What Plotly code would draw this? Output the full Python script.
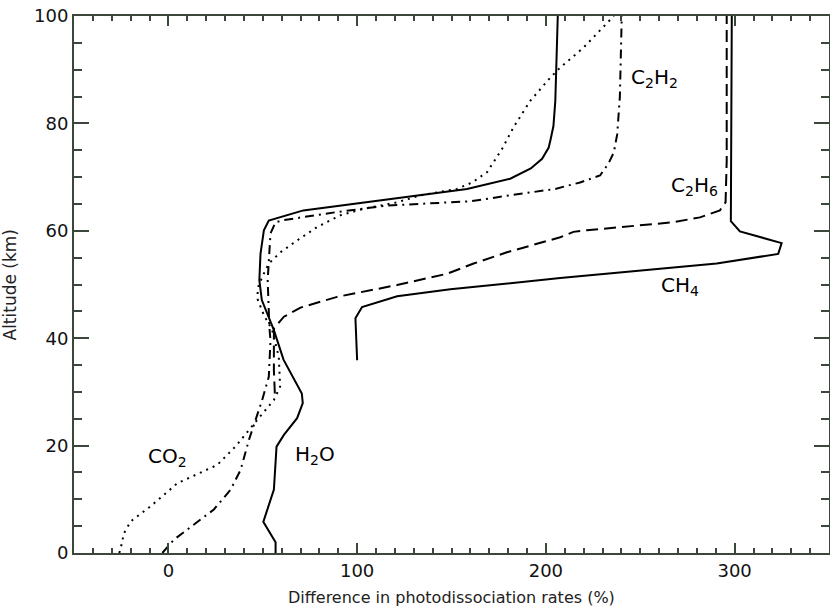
import plotly.graph_objects as go

# ---- data ----
h2o_alt = [0, 2, 5.8, 11.8, 19.8, 22, 25.1, 27.9, 29.7, 33, 36, 41.5, 47.1, 50.8, 55.7, 60.1, 61.9, 63.8,
           67.8, 69.7, 71.6, 73.4, 75.5, 77, 79.5, 84.2, 90.4, 100]
h2o_val = [56.8, 56.8, 50.3, 55.9, 57.3, 61.2, 68.2, 71.2, 70.7, 65.5, 61, 55.9, 49.5, 48.2, 48.8, 50.6, 53.2, 71.5,
           158.2, 181.1, 192, 198, 201.5, 202.5, 204, 205, 205.5, 206.3]

co2_alt = [0, 1.0, 3.7, 5.9, 8.7, 13, 16.4, 20, 24.2, 28.5, 31, 33.5, 36.5, 39, 41.5, 44.3, 47.4, 49.5, 51.4,
           53.9, 56, 58.2, 60.7, 62.9, 64.1, 65.3, 66.6, 67.8, 69, 70.9, 73, 75.2, 79.3, 84.2, 88.5, 90.4, 94.1, 100]
co2_val = [-26, -25.2, -23.5, -19.9, -9.4, 4.8, 25.9, 36, 45.7, 55.9, 59.2, 59, 58.5, 56.8, 55, 50.6, 47.1, 47.5,
           49.7, 53.2, 59.4, 68.2, 78.8, 91.2, 103.5, 121.2, 133.5, 152.9, 161, 168.8, 172.5, 176.7, 182.9, 191.7,
           202.3, 207.6, 219.9, 236]

c2h2_alt = [0, 2.5, 8.1, 11.8, 15.5, 21.1, 24.8, 28.5, 32.8, 36, 39.6, 42.1, 50.8, 59.5, 61.6, 62, 63.5, 64.7,
            65.5, 66.6, 67.8, 69, 70.3, 72.5, 74.6, 78, 85, 100]
c2h2_val = [-3.2, 3, 24.1, 33, 38.3, 42.7, 46.2, 49.7, 53.2, 53.5, 54.1, 53.5, 52.6, 54.1, 56.8, 61.2, 89.4, 115.9,
            160, 181, 205, 218.1, 228.7, 233.1, 236, 237.8, 239.2, 240.2]

c2h6_alt = [29.7, 34, 38, 41.8, 44, 45.7, 47.7, 49.9, 52, 53.9, 56, 58.8, 59.8, 60.1, 61.6, 62.5, 63.8, 65.3, 73, 100]
c2h6_val = [56.4, 55.9, 55.9, 55.9, 61.2, 70, 89.4, 121.2, 147.6, 161.7, 179.4, 207.6, 214.6, 221.7, 267.5, 281.6,
            292.2, 295.2, 295.8, 295.8]

ch4_alt = [35.9, 43.7, 45.8, 47.8, 49.1, 51.2, 53.9, 55.7, 57.7, 59.9, 61.8, 73, 100]
ch4_val = [100, 99.1, 102.6, 121.2, 149.4, 207.6, 290.5, 323.1, 324.9, 302.8, 298, 298.2, 298.5]

labels = ["C<sub>2</sub>H<sub>2</sub>", "C<sub>2</sub>H<sub>6</sub>", "CH<sub>4</sub>", "CO<sub>2</sub>", "H<sub>2</sub>O"]
label_x = [244, 265, 260, -12, 66]
label_y = [88.5, 68.3, 49.8, 17.9, 18.3]

x_tickvals = [0, 100, 200, 300]
y_tickvals = [0, 20, 40, 60, 80, 100]

# ---- figure ----
fig = go.Figure()
black = "#000000"
fig.add_trace(go.Scatter(x=h2o_val, y=h2o_alt, mode="lines", line=dict(color=black, width=2), name="H2O"))
fig.add_trace(go.Scatter(x=co2_val, y=co2_alt, mode="lines", line=dict(color=black, width=2, dash="2px,5px"), name="CO2"))
fig.add_trace(go.Scatter(x=c2h2_val, y=c2h2_alt, mode="lines", line=dict(color=black, width=2, dash="9px,5px,2px,5px"), name="C2H2"))
fig.add_trace(go.Scatter(x=c2h6_val, y=c2h6_alt, mode="lines", line=dict(color=black, width=2, dash="12px,6px"), name="C2H6"))
fig.add_trace(go.Scatter(x=ch4_val, y=ch4_alt, mode="lines", line=dict(color=black, width=2), name="CH4"))

for t, lx, ly in zip(labels, label_x, label_y):
    fig.add_annotation(x=lx, y=ly, xref="x", yref="y", text=t, showarrow=False,
                       xanchor="left", yanchor="middle",
                       font=dict(family="DejaVu Sans", size=20, color=black))

axcol = "#3c473c"
fig.update_xaxes(range=[-50, 350], tickvals=x_tickvals, ticks="inside", ticklen=10, tickwidth=2,
                 tickcolor=axcol, showline=True, linecolor=axcol, linewidth=2, mirror="allticks",
                 showgrid=False, zeroline=False, automargin=False,
                 minor=dict(dtick=10, tick0=0, ticks="inside", ticklen=5, tickwidth=1.5, tickcolor=axcol, showgrid=False),
                 tickfont=dict(family="DejaVu Sans", size=18, color="#111111"))
fig.update_yaxes(range=[0, 100], tickvals=y_tickvals, ticks="inside", ticklen=15, tickwidth=2,
                 tickcolor=axcol, showline=True, linecolor=axcol, linewidth=2, mirror="allticks",
                 showgrid=False, zeroline=False, automargin=False,
                 minor=dict(dtick=5, tick0=0, ticks="inside", ticklen=8, tickwidth=1.5, tickcolor=axcol, showgrid=False),
                 tickfont=dict(family="DejaVu Sans", size=18, color="#111111"))

fig.add_annotation(x=0.5, y=0, xref="paper", yref="paper", yshift=-44, text="Difference in photodissociation rates (%)",
                   showarrow=False, xanchor="center", yanchor="middle",
                   font=dict(family="DejaVu Sans", size=16, color="#222222"))
fig.add_annotation(x=0, y=0.5, xref="paper", yref="paper", xshift=-65, text="Altitude (km)", textangle=-90,
                   showarrow=False, xanchor="center", yanchor="middle",
                   font=dict(family="DejaVu Sans", size=17, color="#222222"))

fig.update_layout(width=830, height=609, margin=dict(l=74, r=1, t=16, b=56, autoexpand=False),
                  plot_bgcolor="white", paper_bgcolor="white", showlegend=False)

# remove the default page margin so the figure sits at the window's top-left corner
fig.write_html("out.html", config={"displayModeBar": False},
               post_script="document.body.style.margin='0px';document.body.style.overflow='hidden';")
